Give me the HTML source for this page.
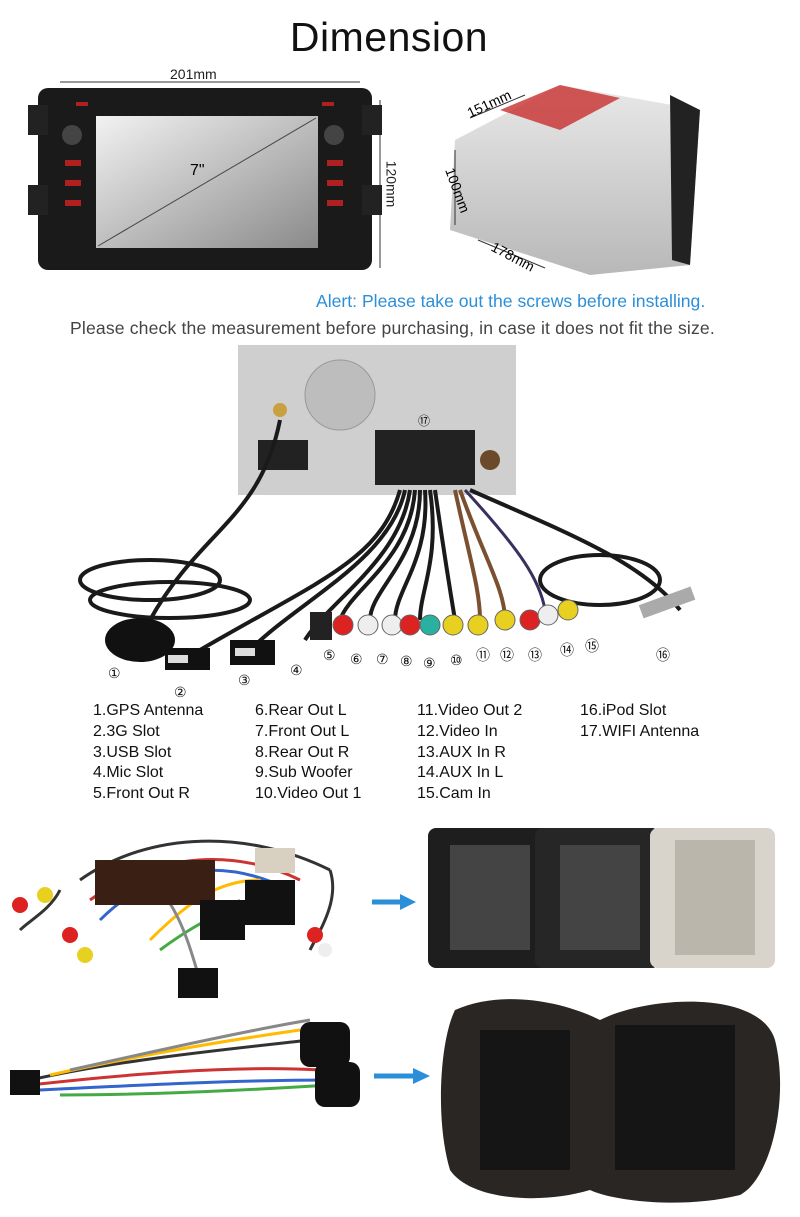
<!DOCTYPE html>
<html><head><meta charset="utf-8"><style>
*{margin:0;padding:0;box-sizing:border-box}
body{width:800px;height:1217px;background:#fff;position:relative;overflow:hidden;font-family:"Liberation Sans",sans-serif;color:#222}
.a{position:absolute;white-space:nowrap}
.leg{font-size:16px;line-height:20.8px;color:#111}
</style></head><body>
<div class="a" style="left:0;width:778px;text-align:center;top:14px;font-size:41px;color:#111;letter-spacing:0.5px">Dimension</div>
<div class="a" style="left:170px;top:66px;font-size:14px">201mm</div>
<div class="a" style="left:368px;top:176px;font-size:14px;transform:rotate(90deg)">120mm</div>
<div class="a" style="left:316px;top:291px;font-size:17.6px;color:#2a8fd8">Alert: Please take out the screws before installing.</div>
<div class="a" style="left:70px;top:318px;font-size:17.6px;color:#444;letter-spacing:0.15px">Please check the measurement before purchasing, in case it does not fit the size.</div>

<svg class="a" style="left:0;top:0" width="800" height="1217">
<line x1="60" y1="82" x2="360" y2="82" stroke="#333"/><line x1="380" y1="100" x2="380" y2="268" stroke="#333"/>
<rect x="38" y="88" width="334" height="182" rx="10" fill="#1a1a1a"/>
<rect x="28" y="105" width="20" height="30" fill="#222"/><rect x="28" y="185" width="20" height="30" fill="#222"/>
<rect x="362" y="105" width="20" height="30" fill="#222"/><rect x="362" y="185" width="20" height="30" fill="#222"/>
<defs><linearGradient id="s" x1="0" y1="0" x2="1" y2="1"><stop offset="0" stop-color="#f2f2f2"/><stop offset="1" stop-color="#8a8a8a"/></linearGradient>
<linearGradient id="m" x1="0" y1="0" x2="0" y2="1"><stop offset="0" stop-color="#e8e8e8"/><stop offset="1" stop-color="#b8b8b8"/></linearGradient></defs>
<rect x="96" y="116" width="222" height="132" fill="url(#s)"/>
<line x1="98" y1="246" x2="316" y2="118" stroke="#444"/>
<text x="190" y="175" font-size="16" font-family="Liberation Sans">7"</text>
<circle cx="72" cy="135" r="10" fill="#444"/><circle cx="334" cy="135" r="10" fill="#444"/>
<g fill="#b02020"><rect x="65" y="160" width="16" height="6"/><rect x="65" y="180" width="16" height="6"/><rect x="65" y="200" width="16" height="6"/><rect x="327" y="160" width="16" height="6"/><rect x="327" y="180" width="16" height="6"/><rect x="327" y="200" width="16" height="6"/><rect x="76" y="102" width="12" height="4"/><rect x="322" y="102" width="12" height="4"/></g>
<polygon points="455,140 560,85 700,110 690,265 590,275 450,230" fill="url(#m)"/>
<polygon points="500,110 560,85 620,98 560,130" fill="#c83030" opacity=".8"/>
<polygon points="670,95 700,110 690,265 672,260" fill="#222"/>
<line x1="470" y1="118" x2="525" y2="95" stroke="#333"/><line x1="455" y1="150" x2="455" y2="225" stroke="#333"/><line x1="478" y1="240" x2="545" y2="268" stroke="#333"/>
<text x="470" y="118" font-size="14" transform="rotate(-25 470 118)">151mm</text>
<text x="445" y="170" font-size="14" transform="rotate(70 445 170)">100mm</text>
<text x="490" y="250" font-size="14" transform="rotate(28 490 250)">178mm</text>
<rect x="238" y="345" width="278" height="150" fill="#cfcfcf"/>
<circle cx="340" cy="395" r="35" fill="#bdbdbd" stroke="#999"/>
<rect x="258" y="440" width="50" height="30" fill="#222"/>
<rect x="375" y="430" width="100" height="55" fill="#222"/>
<circle cx="490" cy="460" r="10" fill="#6a4a2a"/><circle cx="280" cy="410" r="7" fill="#c8a040"/>
<text x="418" y="425" font-size="12">⑰</text>
<g fill="none" stroke="#1a1a1a" stroke-width="4">
<path d="M280 420 C260 520 200 530 150 620"/>
<ellipse cx="150" cy="580" rx="70" ry="20"/>
<ellipse cx="170" cy="600" rx="80" ry="18"/>
<path d="M400 490 C380 560 320 580 200 650"/><path d="M405 490 C390 560 300 600 250 650"/>
<path d="M410 490 C400 560 330 600 305 640"/><path d="M415 490 C410 560 350 590 340 620"/>
<path d="M420 490 C420 560 370 590 370 620"/><path d="M425 490 C430 560 395 590 395 620"/>
<path d="M430 490 C440 560 420 590 420 620"/><path d="M435 490 C445 560 450 590 455 620"/>
<path d="M470 490 C560 530 640 560 680 610"/>
<ellipse cx="600" cy="580" rx="60" ry="25"/>
</g>
<g fill="none" stroke="#7a5030" stroke-width="4"><path d="M455 490 C470 560 480 590 480 620"/><path d="M460 490 C485 560 505 590 505 620"/></g>
<path d="M465 490 C520 550 540 580 545 610" fill="none" stroke="#3a3060" stroke-width="3"/>
<g stroke="#666" stroke-width="1">
<circle cx="343" cy="625" r="10" fill="#d22"/><circle cx="368" cy="625" r="10" fill="#eee"/><circle cx="392" cy="625" r="10" fill="#eee"/><circle cx="410" cy="625" r="10" fill="#d22"/><circle cx="430" cy="625" r="10" fill="#2ab0a0"/><circle cx="453" cy="625" r="10" fill="#e8d020"/><circle cx="478" cy="625" r="10" fill="#e8d020"/><circle cx="505" cy="620" r="10" fill="#e8d020"/><circle cx="530" cy="620" r="10" fill="#d22"/><circle cx="548" cy="615" r="10" fill="#eee"/><circle cx="568" cy="610" r="10" fill="#e8d020"/>
</g>
<rect x="310" y="612" width="22" height="28" fill="#222"/>
<ellipse cx="140" cy="640" rx="35" ry="22" fill="#111"/>
<rect x="165" y="648" width="45" height="22" fill="#111"/><rect x="230" y="640" width="45" height="25" fill="#111"/>
<rect x="168" y="655" width="20" height="8" fill="#ddd"/><rect x="235" y="648" width="20" height="8" fill="#ddd"/>
<rect x="640" y="598" width="55" height="14" fill="#aaa" transform="rotate(-20 660 605)"/>
<g font-size="14" fill="#111">
<text x="108" y="678">①</text><text x="174" y="697">②</text><text x="238" y="685">③</text><text x="290" y="675">④</text><text x="323" y="660">⑤</text><text x="350" y="664">⑥</text><text x="376" y="664">⑦</text><text x="400" y="666">⑧</text><text x="423" y="668">⑨</text><text x="450" y="665">⑩</text><text x="476" y="660">⑪</text><text x="500" y="660">⑫</text><text x="528" y="660">⑬</text><text x="560" y="655">⑭</text><text x="585" y="651">⑮</text><text x="656" y="660">⑯</text>
</g>
<g fill="none" stroke-width="3">
<path d="M80 880 C150 830 250 830 330 870" stroke="#333"/><path d="M90 900 C160 850 240 850 300 880" stroke="#c33"/>
<path d="M100 920 C160 860 230 860 290 890" stroke="#36c"/><path d="M150 940 C190 900 220 880 260 880" stroke="#fb0"/>
<path d="M160 950 C200 920 230 910 240 900" stroke="#4a4"/><path d="M140 870 C180 900 190 950 200 980" stroke="#888"/>
<path d="M60 890 C50 910 30 920 20 930" stroke="#333"/><path d="M330 870 C340 900 320 930 310 950" stroke="#333"/>
</g>
<rect x="95" y="860" width="120" height="45" fill="#3a1f14"/>
<rect x="200" y="900" width="45" height="40" fill="#111"/><rect x="245" y="880" width="50" height="45" fill="#111"/>
<rect x="255" y="848" width="40" height="25" fill="#d8d0c0"/><rect x="178" y="968" width="40" height="30" fill="#111"/>
<circle cx="45" cy="895" r="8" fill="#e8d020"/><circle cx="20" cy="905" r="8" fill="#d22"/><circle cx="70" cy="935" r="8" fill="#d22"/><circle cx="85" cy="955" r="8" fill="#e8d020"/><circle cx="315" cy="935" r="8" fill="#d22"/><circle cx="325" cy="950" r="7" fill="#eee"/>
<line x1="372" y1="902" x2="402" y2="902" stroke="#2a8fd8" stroke-width="5"/><polygon points="400,894 416,902 400,910" fill="#2a8fd8"/>
<line x1="374" y1="1076" x2="415" y2="1076" stroke="#2a8fd8" stroke-width="5"/><polygon points="413,1068 430,1076 413,1084" fill="#2a8fd8"/>
<rect x="428" y="828" width="122" height="140" rx="8" fill="#1e1e1e"/>
<rect x="535" y="828" width="125" height="140" rx="8" fill="#262626"/>
<rect x="650" y="828" width="125" height="140" rx="8" fill="#d8d4cc"/>
<g fill="#444"><rect x="450" y="845" width="80" height="105"/><rect x="560" y="845" width="80" height="105"/></g>
<rect x="675" y="840" width="80" height="115" fill="#bbb6ac"/>
<g fill="none" stroke-width="3">
<path d="M30 1080 C120 1060 220 1050 310 1040" stroke="#333"/><path d="M30 1085 C120 1075 230 1065 320 1070" stroke="#c33"/>
<path d="M40 1090 C140 1085 240 1080 330 1080" stroke="#36c"/><path d="M50 1075 C140 1055 230 1040 300 1030" stroke="#fb0"/>
<path d="M60 1095 C150 1095 250 1090 330 1085" stroke="#4a4"/><path d="M70 1070 C160 1050 250 1030 310 1020" stroke="#888"/>
</g>
<rect x="10" y="1070" width="30" height="25" fill="#111"/>
<rect x="300" y="1022" width="50" height="45" rx="10" fill="#111"/><rect x="315" y="1062" width="45" height="45" rx="10" fill="#111"/>
<path d="M455 1010 C500 990 560 1000 600 1020 C650 995 760 990 775 1040 C790 1100 770 1180 740 1195 C680 1210 610 1200 590 1190 C540 1205 470 1200 450 1170 C435 1120 440 1040 455 1010Z" fill="#2a2624"/>
<rect x="480" y="1030" width="90" height="140" fill="#151515"/><rect x="615" y="1025" width="120" height="145" fill="#151515"/>
</svg>

<div class="a leg" style="left:93px;top:701px">1.GPS Antenna<br>2.3G Slot<br>3.USB Slot<br>4.Mic Slot<br>5.Front Out R</div>
<div class="a leg" style="left:255px;top:701px">6.Rear Out L<br>7.Front Out L<br>8.Rear Out R<br>9.Sub Woofer<br>10.Video Out 1</div>
<div class="a leg" style="left:417px;top:701px">11.Video Out 2<br>12.Video In<br>13.AUX In R<br>14.AUX In L<br>15.Cam In</div>
<div class="a leg" style="left:580px;top:701px">16.iPod Slot<br>17.WIFI Antenna</div>
</body></html>
